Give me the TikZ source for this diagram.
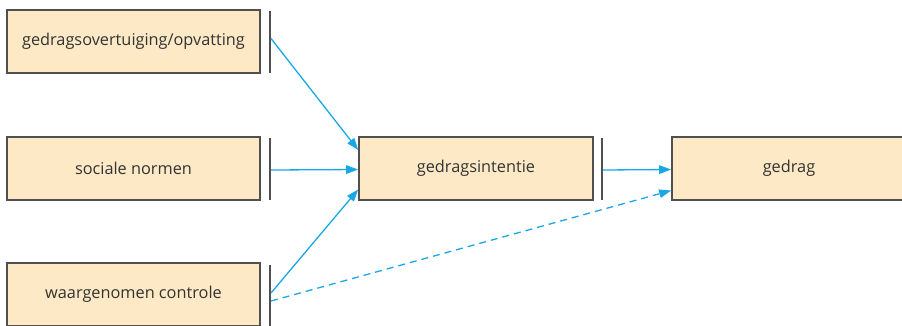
\documentclass[tikz,border=0pt]{standalone}
\usepackage{fontspec}
\setmainfont{Open Sans}
\usetikzlibrary{arrows.meta}
\definecolor{boxfill}{HTML}{FDE9C6}
\definecolor{boxline}{HTML}{505050}
\definecolor{arrcol}{HTML}{19A8E6}
\definecolor{txtcol}{HTML}{333333}
\tikzset{
  box/.style={draw=boxline, line width=1.6pt, fill=boxfill, minimum height=63pt,
    inner sep=0pt, text=txtcol, font=\fontsize{16.3}{19}\selectfont},
  bar/.style={fill=boxline, draw=none, minimum width=1.6pt, minimum height=62pt, inner sep=0pt},
  arr/.style={draw=arrcol, line width=1.3pt, -{Triangle[length=12pt,width=8.5pt]}},
  dasharr/.style={arr, dash pattern=on 7pt off 5pt}
}
\begin{document}
\begin{tikzpicture}[x=1pt,y=-1pt]
\useasboundingbox (0,0) rectangle (902,325);
\clip (0,0) rectangle (902,325);
\node[box, minimum width=253pt] (a) at (133.5,41.5) {gedragsovertuiging/opvatting};
\node[box, minimum width=253pt] (s) at (133.5,168.5) {sociale normen};
\node[box, minimum width=253pt] (w) at (133.5,294.5) {waargenomen controle};
\node[box, minimum width=234pt] (gi) at (476,168.5) {gedragsintentie};
\node[box, minimum width=234pt] (g) at (789,168.5) {gedrag};
\node[bar] (ba) at (270,41.5) {};
\node[bar] (bs) at (270,169) {};
\node[bar] (bw) at (270,296) {};
\node[bar] (bg) at (602,169) {};
\draw[arr] ([yshift=3pt]ba.east) -- ([yshift=18.5pt]gi.west);
\draw[arr] ([yshift=-1pt]bs.east) -- ([yshift=-1pt]gi.west);
\draw[arr] ([yshift=3pt]bw.east) -- ([yshift=-21pt]gi.west);
\draw[dasharr] ([yshift=-5pt]bw.east) -- ([yshift=-22pt]g.west);
\draw[arr] ([yshift=-1pt]bg.east) -- ([yshift=-1pt]g.west);
\end{tikzpicture}
\end{document}
